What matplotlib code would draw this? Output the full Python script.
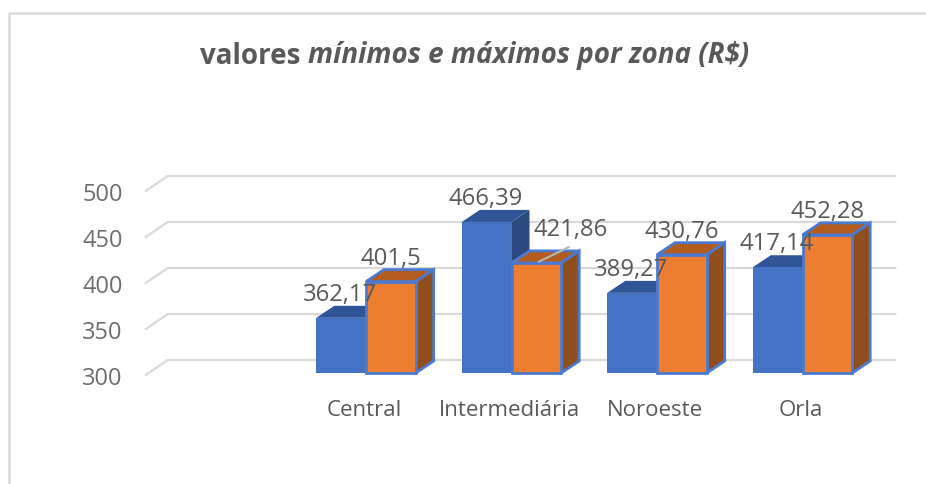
import matplotlib
matplotlib.use("Agg")
import matplotlib.pyplot as plt
from matplotlib.patches import Polygon
from matplotlib.lines import Line2D
from matplotlib.transforms import ScaledTranslation

# ------------------------------
# DATA
# ------------------------------
categories = ["", "Central", "Intermediária", "Noroeste", "Orla"]
minimos = [None, 362.17, 466.39, 389.27, 417.14]
maximos = [None, 401.5, 421.86, 430.76, 452.28]
min_labels = ["", "362,17", "466,39", "389,27", "417,14"]
max_labels = ["", "401,5", "421,86", "430,76", "452,28"]
y_ticks = [300, 350, 400, 450, 500]

# ------------------------------
# STYLE
# ------------------------------
W, H = 926, 485
FONT = "Open Sans"
TEXT = "#595959"
GRID = "#D9D9D9"
BLUE = ("#4472C4", "#2F5597", "#2A4A80")   # front, top, side
ORANGE = ("#ED7D31", "#B35C1E", "#8F4E1C")
EDGE = "#4A7BD0"

# pixel box of the front plane
LEFT, RIGHT, TOP, BOTTOM = 147.75, 875.25, 192, 376

fig = plt.figure(figsize=(W / 100, H / 100), dpi=100, facecolor="white")
ax = fig.add_axes([LEFT / W, 1 - BOTTOM / H, (RIGHT - LEFT) / W, (BOTTOM - TOP) / H])
ax.set_xlim(-0.5, 4.5)
ax.set_ylim(300, 500)
ax.patch.set_visible(False)
for s in ax.spines.values():
    s.set_visible(False)

# px -> data unit sizes
px_x = 5 / (RIGHT - LEFT)
px_y = 200 / (BOTTOM - TOP)
wall_dx, wall_dy = 20 * px_x, 15 * px_y
bar_dx, bar_dy = 18 * px_x, 12 * px_y
bar_w = 49.7 * px_x
base = 300 + 2 * px_y

# grid lines: slanted floor part then along the back wall
for v in y_ticks:
    ax.plot([-0.5 - 2 * px_x, -0.5 + wall_dx, 4.5 + wall_dx], [v, v + wall_dy, v + wall_dy],
            color=GRID, lw=1.6, clip_on=False, zorder=1)


def draw_bar(x0, val, colors, edge, z):
    x1 = x0 + bar_w
    lw = 2.0 if edge != "none" else 0
    ax.bar(x0, val - base, bar_w, bottom=base, align="edge", color=colors[0],
           edgecolor=edge, linewidth=lw, zorder=z + 0.2)
    top = [(x0, val), (x1, val), (x1 + bar_dx, val + bar_dy), (x0 + bar_dx, val + bar_dy)]
    side = [(x1, base), (x1 + bar_dx, base + bar_dy), (x1 + bar_dx, val + bar_dy), (x1, val)]
    ax.add_patch(Polygon(top, closed=True, facecolor=colors[1], edgecolor=edge,
                         linewidth=lw, clip_on=False, zorder=z))
    ax.add_patch(Polygon(side, closed=True, facecolor=colors[2], edgecolor=edge,
                         linewidth=lw, clip_on=False, zorder=z))


for i in range(1, len(categories)):
    draw_bar(i - bar_w, minimos[i], BLUE, "none", 2 + i)
    draw_bar(i, maximos[i], ORANGE, EDGE, 2.5 + i)

# ------------------------------
# DATA LABELS
# ------------------------------
for i in range(1, len(categories)):
    ax.annotate(min_labels[i], (i - bar_w / 2, minimos[i]), xytext=(-1 * 0.72, 24 * 0.72),
                textcoords="offset points", ha="center", va="center",
                fontsize=17.2, family=FONT, color=TEXT, zorder=20, annotation_clip=False)
    off = (34, 34) if i == 2 else (0, 24)
    ax.annotate(max_labels[i], (i + bar_w / 2, maximos[i]), xytext=(off[0] * 0.72, off[1] * 0.72),
                textcoords="offset points", ha="center", va="center",
                fontsize=17.2, family=FONT, color=TEXT, zorder=20, annotation_clip=False)

# leader line of the moved label
ax.annotate("", (2 + bar_w / 2, maximos[2]), xytext=(35 * 0.72, 17 * 0.72),
            textcoords="offset points", arrowprops=dict(arrowstyle="-", color="#B5B5B5", lw=1.5),
            zorder=21, annotation_clip=False)

# ------------------------------
# AXES TEXT
# ------------------------------
ax.set_yticks(y_ticks)
ax.set_yticklabels([str(v) for v in y_ticks], fontsize=17, family=FONT, color="#6E6E6E")
ax.set_xticks(range(len(categories)))
ax.set_xticklabels(categories, fontsize=16, family=FONT, color=TEXT)
ax.tick_params(axis="y", length=0, pad=18)
ax.tick_params(axis="x", length=0, pad=17)
# category names sit a bit left of the bar pairs
shift = ScaledTranslation(-2 / 100, 0, fig.dpi_scale_trans)
for lab in ax.get_xticklabels():
    lab.set_transform(lab.get_transform() + shift)

# title, two fonts styles
t1 = fig.text(200 / W, 1 - 56 / H, "valores ", fontsize=20, fontweight="bold", family=FONT,
              color=TEXT, ha="left", va="center")
fig.canvas.draw()
ax.annotate("mínimos e máximos por zona (R$)", xy=(1, 0), xycoords=t1, fontsize=20,
            fontweight="bold", fontstyle="italic", family=FONT, color=TEXT, ha="left", va="bottom",
            annotation_clip=False)

# outer chart frame
fig.add_artist(Line2D([9 / W, 9 / W, 1], [0, 1 - 13.5 / H, 1 - 13.5 / H], color="#DADADA", lw=1.8))

fig.savefig("out.png", dpi=100)
